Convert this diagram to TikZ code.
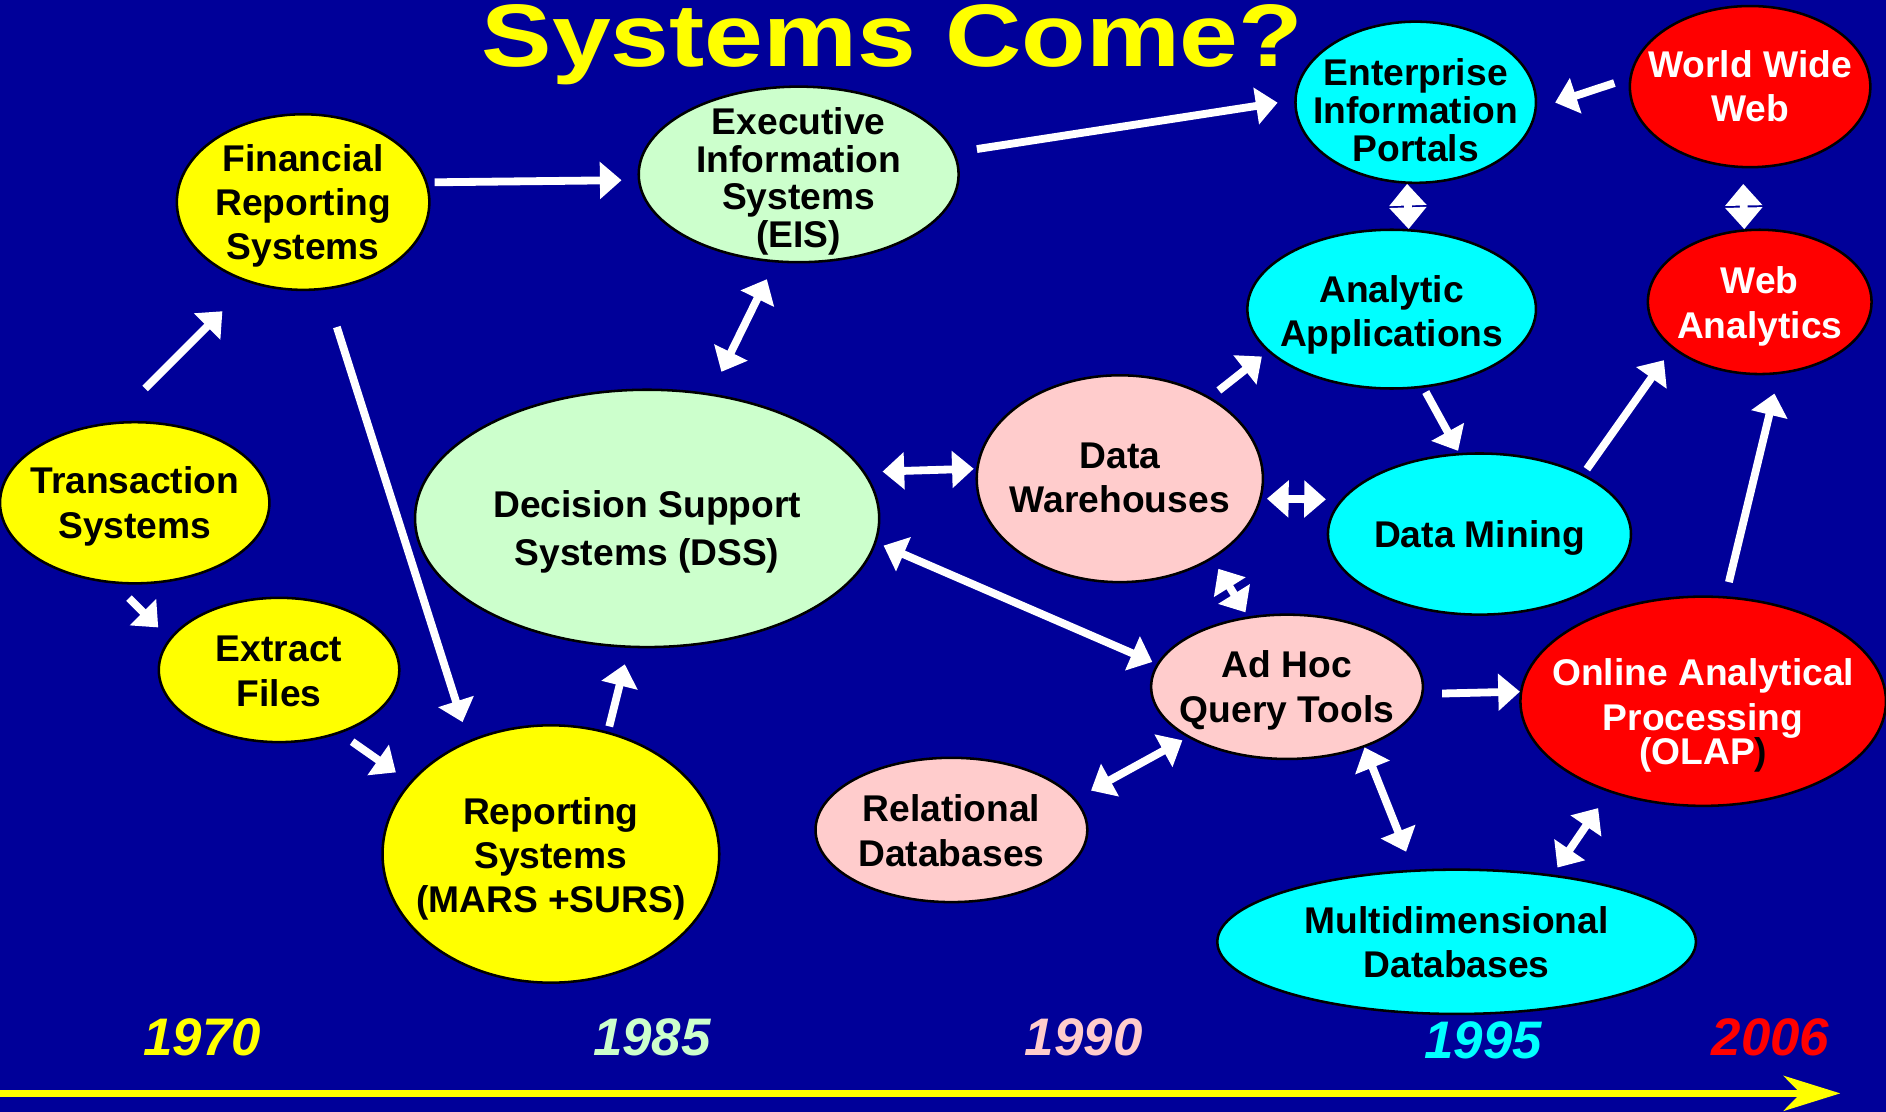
\documentclass[tikz,border=0pt]{standalone}
\usepackage{fontspec}
\setmainfont{Liberation Sans}
\usetikzlibrary{shapes.geometric,arrows.meta}
\definecolor{slideblue}{RGB}{0,0,153}
\definecolor{paleGreen}{RGB}{204,255,204}
\definecolor{palePink}{RGB}{255,204,204}
\definecolor{aqua}{RGB}{0,255,255}
\definecolor{lemon}{RGB}{255,255,0}
\definecolor{brightRed}{RGB}{255,0,0}
\newcommand{\inbubble}[2][2.2pt]{\raisebox{-#1}[\height][\depth]{\begin{tabular}{@{}c@{}}#2\end{tabular}}}

\begin{document}
\begin{tikzpicture}[x=0.02cm, y=-0.02cm,
    bubble/.style={ellipse, draw=black, line width=1.2pt, inner sep=-14pt,
      font=\fontsize{17.6}{21}\selectfont\bfseries},
    link/.style={white, line width=0.13cm, -{Triangle[length=0.36cm,width=0.6cm]}},
    twoway/.style={link, {Triangle[length=0.36cm,width=0.6cm]}-{Triangle[length=0.36cm,width=0.6cm]}},
    year/.style={font=\fontsize{25}{25}\selectfont\bfseries\itshape}]
            \useasboundingbox (0,0) rectangle (1568,924.5);
            \clip (0,0) rectangle (1568,924.5);
            \fill[slideblue] (0,0) rectangle (1568,924.5);

            \node[text=lemon, anchor=base] (title) at (742,55)
              {\scalebox{1.19}[1]{\fontsize{42}{42}\selectfont\bfseries Systems Come?}};

            \node[bubble, fill=lemon, minimum width=4.2cm, minimum height=2.92cm] (fin) at (252,168) {\inbubble[2.1pt]{Financial\\Reporting\\Systems}};
            \node[bubble, fill=paleGreen, minimum width=5.32cm, minimum height=2.92cm, font=\fontsize{17.6}{17}\selectfont\bfseries] (eis) at (664,145) {\inbubble[4pt]{Executive\\Information\\Systems\\(EIS)}};
            \node[bubble, fill=aqua, minimum width=4.0cm, minimum height=2.68cm, font=\fontsize{17.6}{18}\selectfont\bfseries] (portals) at (1177,85) {\inbubble[6.4pt]{Enterprise\\Information\\Portals}};
            \node[bubble, fill=brightRed, text=white, minimum width=4.0cm, minimum height=2.68cm] (www) at (1455,72) {\inbubble[1.8pt]{World Wide\\Web}};
            \node[bubble, fill=aqua, minimum width=4.8cm, minimum height=2.64cm] (analytic) at (1157,257) {\inbubble[3pt]{Analytic\\Applications}};
            \node[bubble, fill=brightRed, text=white, minimum width=3.72cm, minimum height=2.4cm] (webana) at (1463,251) {\inbubble[2.4pt]{Web\\Analytics}};
            \node[bubble, fill=lemon, minimum width=4.48cm, minimum height=2.68cm] (trans) at (112,418) {\inbubble[2.1pt]{Transaction\\Systems}};
            \node[bubble, fill=paleGreen, minimum width=7.72cm, minimum height=4.28cm, font=\fontsize{17.6}{23}\selectfont\bfseries] (dss) at (538,431) {\inbubble[6.3pt]{Decision Support\\Systems (DSS)}};
            \node[bubble, fill=palePink, minimum width=4.76cm, minimum height=3.44cm] (dwh) at (931,398) {\inbubble[1.5pt]{Data\\Warehouses}};
            \node[bubble, fill=aqua, minimum width=5.04cm, minimum height=2.68cm] (mining) at (1230,444) {\inbubble[2.1pt]{Data Mining}};
            \node[bubble, fill=lemon, minimum width=4.0cm, minimum height=2.4cm] (extract) at (232,557) {\inbubble[2.4pt]{Extract\\Files}};
            \node[bubble, fill=palePink, minimum width=4.52cm, minimum height=2.4cm] (adhoc) at (1070,571) {\inbubble[2.1pt]{Ad Hoc\\Query Tools}};
            \node[bubble, fill=brightRed, text=white, minimum width=6.08cm, minimum height=3.48cm, font=\fontsize{17.6}{21.3}\selectfont\bfseries] (olap) at (1416,583) {\inbubble[7pt]{Online Analytical\\Processing\\[-4.8pt](OLAP\textcolor{black}{)}}};
            \node[bubble, fill=lemon, minimum width=5.6cm, minimum height=4.28cm] (report) at (458,710) {\inbubble[2.7pt]{Reporting\\Systems\\(MARS +SURS)}};
            \node[bubble, fill=palePink, minimum width=4.52cm, minimum height=2.4cm] (reldb) at (791,690) {\inbubble[2.4pt]{Relational\\Databases}};
            \node[bubble, fill=aqua, minimum width=7.96cm, minimum height=2.4cm] (mddb) at (1211,783) {\inbubble[2.4pt]{Multidimensional\\Databases}};

            \draw[link, shorten <=0.79cm, shorten >=0.66cm] (trans.106) -- (fin.237);
            \draw[link, shorten <=0.12cm, shorten >=0.27cm] (fin.9.5) -- (eis.182.6);
            \draw[link, shorten <=0.37cm, shorten >=0.28cm] (eis.8) -- (portals.179.4);
            \draw[link, shorten <=0.26cm, shorten >=0.32cm] (www.176.6) -- (portals.-3.3);
            \draw[twoway] (portals.264) -- (analytic.78.8);
            \draw[twoway, shorten <=0.26cm] (www.265.7) -- (webana.102.3);
            \draw[twoway, shorten <=0.31cm, shorten >=0.40cm] (eis.255.6) -- (dss.63.4);
            \draw[twoway, shorten <=0.29cm, shorten >=0.04cm] (dss.12.6) -- (dwh.176.6);
            \draw[link, shorten <=0.18cm, shorten >=0.13cm] (dwh.42.4) -- (analytic.199);
            \draw[link, shorten <=0.08cm, shorten >=0.04cm] (analytic.-68) -- (mining.104.5);
            \draw[twoway, shorten <=0.09cm, shorten >=0.25cm] (dwh.-8.8) -- (mining.166.3);
            \draw[link, shorten <=0.10cm, shorten >=0.24cm] (mining.30.8) -- (webana.208);
            \draw[link, shorten <=0.24cm, shorten >=0.33cm] (olap.78.1) -- (webana.-75);
            \draw[twoway, shorten <=0.13cm, shorten >=0.08cm] (dss.-6.5) -- (adhoc.170.9);
            \draw[twoway, shorten <=0.19cm, shorten >=0.08cm] (dwh.-41) -- (adhoc.119);
            \draw[link, shorten <=0.31cm] (adhoc.-3.1) -- (olap.177.7);
            \draw[twoway, shorten <=0.29cm, shorten >=0.10cm] (reldb.14.5) -- (adhoc.207);
            \draw[twoway, shorten >=0.32cm] (adhoc.-38.3) -- (mddb.121);
            \draw[twoway, shorten <=0.14cm, shorten >=0.32cm] (mddb.35.9) -- (olap.224.1);
            \draw[link, shorten <=0.65cm, shorten >=0.32cm] (fin.-76.7) -- (report.126);
            \draw[link, shorten <=0.09cm, shorten >=0.28cm] (report.65.6) -- (dss.262.6);
            \draw[link, shorten <=0.34cm, shorten >=0.26cm] (trans.256.7) -- (extract.164.9);
            \draw[link, shorten <=0.24cm, shorten >=0.28cm] (extract.-46.1) -- (report.153);

            \node[year, text=lemon] (y1970) at (168,862) {1970};
            \node[year, text=paleGreen] (y1985) at (542,862) {1985};
            \node[year, text=palePink] (y1990) at (901,862) {1990};
            \node[year, text=aqua] (y1995) at (1233,865) {1995};
            \node[year, text=brightRed] (y2006) at (1472,862) {2006};

            \coordinate (tstart) at (0,909);
            \coordinate (tend) at (1530,909);
            \draw[lemon, line width=0.12cm, -{Stealth[length=0.94cm,width=0.58cm,inset=0.28cm]}] (tstart) -- (tend);
        \end{tikzpicture}
\end{document}
